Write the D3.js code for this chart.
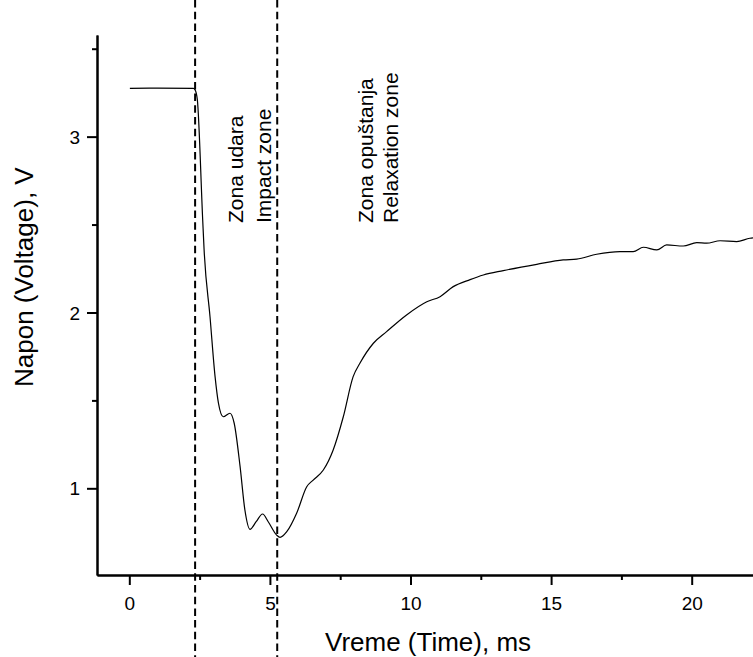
<!DOCTYPE html>
<html>
<head>
<meta charset="utf-8">
<script src="https://cdn.jsdelivr.net/npm/d3@7"></script>
<style>
  html, body { margin: 0; padding: 0; background: #fff; }
  svg { display: block; }
  text { font-family: "Liberation Sans", Arial, sans-serif; fill: #000; }
</style>
</head>
<body>
<svg id="chart" width="753" height="657"></svg>
<script>
// ---- data ----
const timeMs = [0.02, 1.0, 2.28, 2.34, 2.42, 2.61, 2.66, 2.87, 3.05, 3.17, 3.34, 3.58, 3.73, 3.94, 4.11, 4.29, 4.51, 4.74, 4.94, 5.24, 5.36, 5.60, 5.95, 6.31, 6.54, 6.90, 7.25, 7.61, 7.96, 8.20, 8.68, 9.15, 9.86, 10.58, 11.05, 11.52, 12.12, 12.59, 13.30, 14.49, 15.43, 15.91, 16.62, 17.45, 17.92, 18.28, 18.76, 19.11, 19.70, 20.18, 20.53, 21.01, 21.60, 22.07, 22.18];
const voltage = [3.275, 3.276, 3.275, 3.266, 3.209, 2.526, 2.356, 1.976, 1.635, 1.484, 1.407, 1.427, 1.370, 1.123, 0.877, 0.767, 0.810, 0.854, 0.810, 0.734, 0.721, 0.753, 0.858, 1.009, 1.047, 1.104, 1.218, 1.407, 1.635, 1.711, 1.825, 1.891, 1.986, 2.061, 2.090, 2.147, 2.187, 2.213, 2.238, 2.274, 2.299, 2.303, 2.331, 2.346, 2.346, 2.371, 2.356, 2.384, 2.378, 2.397, 2.394, 2.408, 2.403, 2.422, 2.424];
const xMajorTicks = [0, 5, 10, 15, 20];
const xMinorTicks = [2.5, 7.5, 12.5, 17.5];
const yMajorTicks = [1, 2, 3];
const yMinorTicks = [1.5, 2.5, 3.5];
const zoneBoundaries = [2.34, 5.26];
const zoneLabelText = ["Zona udara", "Impact zone", "Zona opuštanja", "Relaxation zone"];
const zoneLabelTime = [4.04, 5.03, 8.67, 9.56];
const xTitle = "Vreme (Time), ms";
const yTitle = "Napon (Voltage), V";

// ---- layout ----
const svg = d3.select("#chart");
const mLeft = 97, mRight = 753, mTop = 35, mBottom = 575;

const x = d3.scaleLinear().domain([-1.149, 22.18]).range([mLeft, mRight]);
const y = d3.scaleLinear().domain([0.507, 3.578]).range([mBottom, mTop]);

// zone boundary dashed lines (full height)
svg.selectAll("line.zone").data(zoneBoundaries).enter().append("line")
  .attr("class", "zone")
  .attr("x1", d => x(d)).attr("x2", d => x(d))
  .attr("y1", 0).attr("y2", 657)
  .attr("stroke", "#000").attr("stroke-width", 2)
  .attr("stroke-dasharray", "7.5,4.2");

// curve
const line = d3.line()
  .x((d, i) => x(timeMs[i]))
  .y(d => y(d))
  .curve(d3.curveMonotoneX);
svg.append("path")
  .datum(voltage)
  .attr("d", line)
  .attr("fill", "none")
  .attr("stroke", "#000")
  .attr("stroke-width", 1.2);

// axes
const gx = svg.append("g").attr("transform", `translate(0,${mBottom})`);
gx.call(d3.axisBottom(x).tickValues(xMajorTicks).tickSize(10).tickSizeOuter(0).tickPadding(11.5).tickFormat(d3.format("d")));
const gxm = svg.append("g").attr("transform", `translate(0,${mBottom})`);
gxm.call(d3.axisBottom(x).tickValues(xMinorTicks).tickSize(5).tickSizeOuter(0).tickFormat(""));

const gy = svg.append("g").attr("transform", `translate(${mLeft},0)`);
gy.call(d3.axisLeft(y).tickValues(yMajorTicks).tickSize(10).tickSizeOuter(0).tickPadding(7).tickFormat(d3.format("d")));
const gym = svg.append("g").attr("transform", `translate(${mLeft},0)`);
gym.call(d3.axisLeft(y).tickValues(yMinorTicks).tickSize(5).tickSizeOuter(0).tickFormat(""));

[gx, gxm, gy, gym].forEach(g => {
  g.selectAll("path.domain").attr("stroke", "#000").attr("stroke-width", 2);
  g.selectAll(".tick line").attr("stroke", "#000").attr("stroke-width", 2);
  g.selectAll(".tick text").style("font-family", '"Liberation Sans", Arial, sans-serif').style("font-size", "19px").attr("fill", "#000");
});
gy.selectAll(".tick text").attr("dy", "0.35em");

// axis titles
svg.append("text")
  .attr("x", 325).attr("y", 651)
  .style("font-size", "26px")
  .text(xTitle);
svg.append("text")
  .attr("transform", "translate(33,387) rotate(-90)")
  .style("font-size", "26px")
  .text(yTitle);

// zone annotations (rotated)
svg.selectAll("text.zlabel").data(zoneLabelText).enter().append("text")
  .attr("class", "zlabel")
  .attr("transform", (d, i) => `translate(${x(zoneLabelTime[i])},223) rotate(-90)`)
  .style("font-size", "21px")
  .text(d => d);
</script>
</body>
</html>
